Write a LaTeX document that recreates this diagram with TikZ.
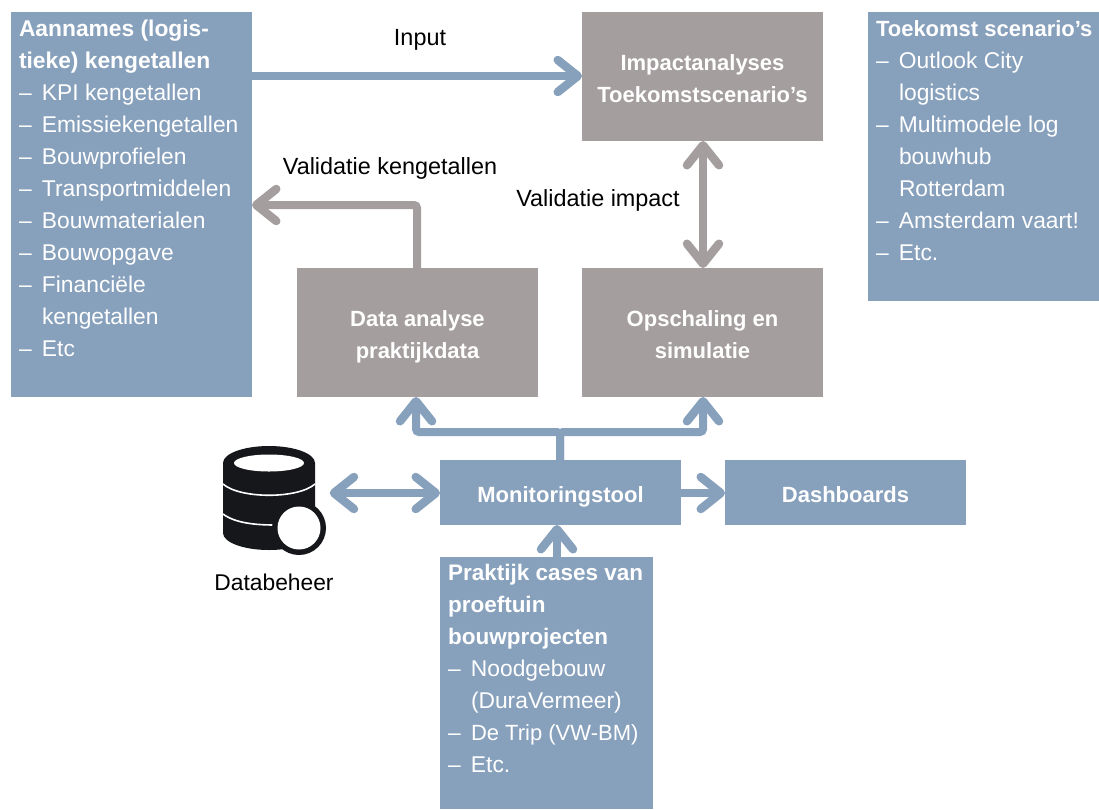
\documentclass[tikz,border=0pt]{standalone}
\usepackage{fontspec}
\setmainfont{Liberation Sans}
\usetikzlibrary{arrows.meta}
\definecolor{bl}{HTML}{87A0BC}
\definecolor{gr}{HTML}{A59E9F}
\definecolor{ink}{HTML}{15171A}
\newcommand{\li}[1]{\makebox[23pt][l]{–}#1\\}
\newcommand{\lc}[1]{\hspace*{23pt}#1\\}
\newcommand{\hd}[1]{{\bfseries #1}\\}
\newcommand{\hds}[1]{{\fontsize{22}{32}\selectfont\bfseries #1}\\}
\newcommand{\hdm}[1]{{\fontsize{22.5}{32}\selectfont\bfseries #1}\\}
\newcommand{\tl}{\rule{0pt}{29.4pt}\strut}
\tikzset{
  x=1pt,y=-1pt,
  boxbase/.style={anchor=north west,inner sep=0pt,outer sep=0pt,font=\fontsize{22}{32}\selectfont\bfseries,text=white,align=center},
  bluebox/.style={boxbase,fill=bl},
  greybox/.style={boxbase,fill=gr},
  listtext/.style={anchor=north west,inner sep=0pt,outer sep=0pt,align=left,text=white,font=\fontsize{22.8}{32}\selectfont},
  lbl/.style={inner sep=0pt,text=black,font=\fontsize{23.4}{24}\selectfont},
  conn/.style={line width=8pt,rounded corners=3pt},
  bconn/.style={conn,draw=bl},
  gconn/.style={conn,draw=gr},
  tip/.tip={Straight Barb[length=20pt,width=32pt,line width=8.5pt,round]},
}
\begin{document}
\begin{tikzpicture}
\useasboundingbox (0,0) rectangle (1099,809);
% boxes
\node[bluebox,minimum width=241pt,minimum height=385pt] (aann) at (11,12) {};
\node[listtext] at (19,20) {\hd{Aannames (logis-}\hd{tieke) kengetallen}\li{KPI kengetallen}\li{Emissiekengetallen}\li{Bouwprofielen}\li{Transportmiddelen}\li{Bouwmaterialen}\li{Bouwopgave}\li{Financiële}\lc{kengetallen}\li{Etc}};
\node[greybox,minimum width=241pt,minimum height=129pt] (impact) at (582,12) {\tl Impactanalyses\\\strut Toekomstscenario’s};
\node[bluebox,minimum width=231pt,minimum height=289pt] (toek) at (868,12) {};
\node[listtext] at (876,21) {\hds{Toekomst scenario’s}\li{Outlook City}\lc{logistics}\li{Multimodele log}\lc{bouwhub}\lc{Rotterdam}\li{Amsterdam vaart!}\li{Etc.}};
\node[greybox,minimum width=241pt,minimum height=129pt] (data) at (297,268) {\tl Data analyse\\\strut praktijkdata};
\node[greybox,minimum width=241pt,minimum height=129pt] (opsch) at (582,268) {\tl Opschaling en\\\strut simulatie};
\node[bluebox,minimum width=241pt,minimum height=65pt] (mon) at (440,460) {\tl Monitoringstool};
\node[bluebox,minimum width=241pt,minimum height=65pt] (dash) at (725,460) {\tl Dashboards};
\node[bluebox,minimum width=213pt,minimum height=252pt] (prak) at (440,557) {};
\node[listtext] at (448,564) {\hdm{Praktijk cases van}\hdm{proeftuin}\hdm{bouwprojecten}\li{Noodgebouw}\lc{(DuraVermeer)}\li{{\fontsize{22}{32}\selectfont De Trip (VW-BM)}}\li{Etc.}};
% database icon
\fill[ink] (223,463) arc[start angle=180,end angle=0,x radius=46,y radius=-17]
  -- (315,533) arc[start angle=0,end angle=180,x radius=46,y radius=17] -- cycle;
\fill[white] (269,463) ellipse[x radius=35,y radius=8.5];
\draw[white,line width=1.6pt] (223,484) .. controls (240,499) and (298,499) .. (315,484);
\draw[white,line width=1.6pt] (223,514) .. controls (235,523) and (255,525) .. (275,525);
\fill[ink] (299,528) circle[radius=27];
\fill[white] (299,528) circle[radius=21.5];
\node[inner sep=0pt,minimum width=107pt,minimum height=110pt] (db) at (276,500) {};
\node[lbl,font=\fontsize{22.8}{24}\selectfont] (dblabel) at (274,582) {Databeheer};
% connectors
\coordinate (inS) at (aann.east|-0,76);
\coordinate (inE) at (impact.west|-0,76);
\draw[bconn,-{tip}] (inS) -- (inE);
\draw[gconn,-{tip}] (data.north-|417,0) |- (aann.east|-0,205);
\draw[gconn,{tip}-{tip}] (impact.south-|703,0) -- (opsch.north-|703,0);
\draw[bconn,-{tip}] (mon.north-|560,0) -- (560,432) -| (data.south-|416,0);
\draw[bconn,-{tip}] (mon.north-|560,0) -- (560,432) -| (opsch.south-|703,0);
\draw[bconn,{tip}-{tip}] (db.east|-0,493) -- (mon.west|-0,493);
\draw[bconn,-{tip}] (mon.east|-0,493) -- (dash.west|-0,493);
\draw[bconn,-{tip}] (prak.north-|557,0) -- (mon.south-|557,0);
% labels
\node[lbl] (linput) at (420,40) {Input};
\node[lbl] (lval) at (390,168) {Validatie kengetallen};
\node[lbl] (limp) at (598,200) {Validatie impact};
\end{tikzpicture}
\end{document}
